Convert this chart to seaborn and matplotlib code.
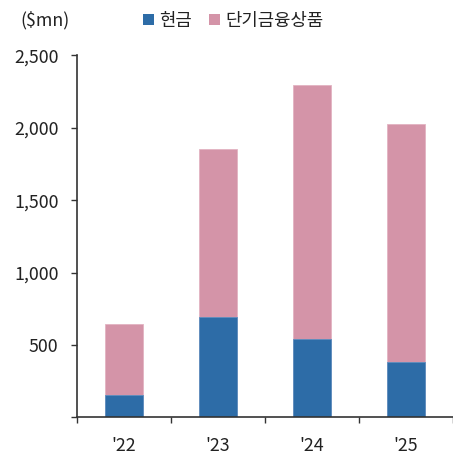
import matplotlib
matplotlib.use("Agg")
import matplotlib.pyplot as plt
from matplotlib.patches import Patch
from matplotlib.ticker import FixedLocator, FuncFormatter
import seaborn as sns
import pandas as pd

# Cash and short-term financial products by year ($mn)
years = ["'22", "'23", "'24", "'25"]
cash = [155, 695, 540, 380]
short_term = [490, 1160, 1755, 1645]
series_names = ["현금", "단기금융상품"]
y_ticks = [0, 500, 1000, 1500, 2000, 2500]

blue = "#2D6CA7"
pink = "#D494A8"
text_color = "#222222"
fs = 12.8

sns.set_style("white")
plt.rcParams["font.family"] = ["Noto Sans CJK KR", "DejaVu Sans"]
plt.rcParams["font.size"] = fs

df = pd.DataFrame({"year": years, "cash": cash, "short_term": short_term})
df["total"] = df["cash"] + df["short_term"]

fig = plt.figure(figsize=(4.53, 4.62), dpi=100)
ax = fig.add_axes([0.1693, 0.0967, 0.8307, 0.7833])

# stacked bars: total in pink, cash drawn over it in blue
sns.barplot(data=df, x="year", y="total", color=pink, width=0.4,
            saturation=1, edgecolor="#E2B3C2", linewidth=0.6, ax=ax)
sns.barplot(data=df, x="year", y="cash", color=blue, width=0.4,
            saturation=1, edgecolor="#5E8FC0", linewidth=0.6, ax=ax)

ax.set_xlim(-0.5, 3.5)
ax.set_ylim(0, 2500)
ax.set_xlabel("")
ax.set_ylabel("")

for side in ["top", "right"]:
    ax.spines[side].set_visible(False)
for side in ["left", "bottom"]:
    ax.spines[side].set_color("#333333")
    ax.spines[side].set_linewidth(1.2)

ax.yaxis.set_major_locator(FixedLocator(y_ticks))
ax.yaxis.set_major_formatter(FuncFormatter(lambda v, p: "" if v == 0 else f"{int(v):,}"))
ax.tick_params(axis="y", direction="out", length=4.5, width=1, color="#333333",
               pad=8.5, labelcolor=text_color, labelsize=fs, left=True)

# category labels without ticks; separator ticks between categories
ax.set_xticks(range(len(years)))
ax.set_xticklabels(years)
ax.tick_params(axis="x", which="major", length=0, pad=14, labelcolor=text_color,
               labelsize=fs)
ax.set_xticks([i - 0.5 for i in range(len(years) + 1)], minor=True)
ax.tick_params(axis="x", which="minor", direction="out", length=4.5, width=1,
               color="#333333", bottom=True)

fig.text(0.046, 0.957, "($mn)", fontsize=fs, color=text_color, va="center", ha="left")

handles = [Patch(facecolor=blue, edgecolor="none"), Patch(facecolor=pink, edgecolor="none")]
fig.legend(handles, series_names, loc="center", bbox_to_anchor=(0.515, 0.955),
           ncol=2, frameon=False, fontsize=fs, handlelength=0.6, handleheight=0.6,
           handletextpad=0.3, columnspacing=1.0, labelcolor=text_color)

fig.savefig("out.png", dpi=100)
